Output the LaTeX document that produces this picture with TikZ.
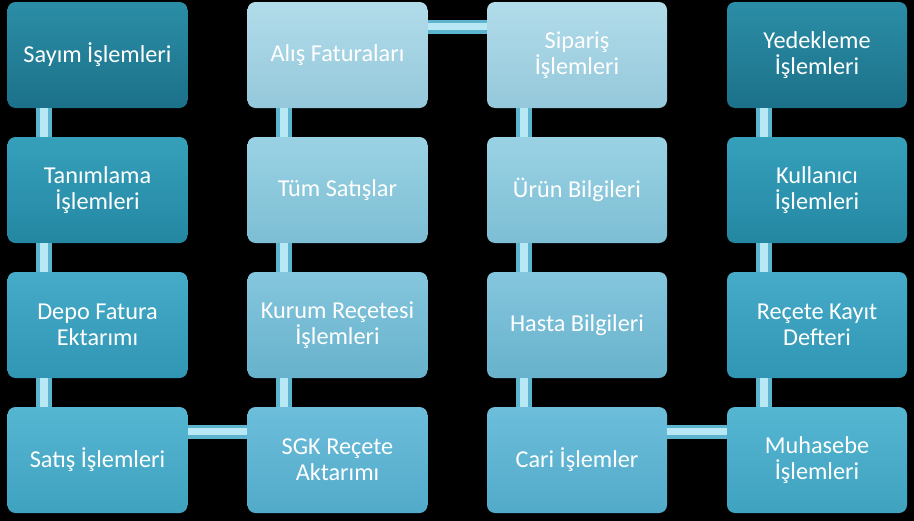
\documentclass[tikz,border=0pt]{standalone}
\usepackage{fontspec}
\setmainfont{Carlito}
\usetikzlibrary{backgrounds}
\definecolor{barout}{HTML}{5DB4CF}
\definecolor{barin}{HTML}{B8E8F4}
\begin{document}
\begin{tikzpicture}[x=0.75pt,y=-0.75pt,
  box/.style={rounded corners=6pt, minimum width=135pt, minimum height=79.5pt,
    text=white, align=center, inner sep=2pt,
    font=\fontsize{18.2}{19.6}\selectfont},
  ca/.style={box, top color={rgb,255:red,43;green,142;blue,166}, bottom color={rgb,255:red,27;green,113;blue,137}},
  cb/.style={box, top color={rgb,255:red,54;green,160;blue,187}, bottom color={rgb,255:red,36;green,135;blue,162}},
  cc/.style={box, top color={rgb,255:red,69;green,171;blue,200}, bottom color={rgb,255:red,49;green,150;blue,179}},
  cd/.style={box, top color={rgb,255:red,85;green,182;blue,210}, bottom color={rgb,255:red,63;green,162;blue,191}},
  la/.style={box, top color={rgb,255:red,178;green,220;blue,234}, bottom color={rgb,255:red,148;green,200;blue,218}},
  lb/.style={box, top color={rgb,255:red,154;green,210;blue,228}, bottom color={rgb,255:red,125;green,190;blue,212}},
  lc/.style={box, top color={rgb,255:red,132;green,198;blue,221}, bottom color={rgb,255:red,104;green,178;blue,204}},
  ld/.style={box, top color={rgb,255:red,108;green,190;blue,219}, bottom color={rgb,255:red,82;green,170;blue,201}},
  vbar/.style={draw=barout, double=barin, line width=3pt, double distance=6pt},
  hbar/.style={draw=barout, double=barin, line width=2.6pt, double distance=5pt}]
\fill[black] (0,0) rectangle (914,521);
\useasboundingbox (0,0) rectangle (914,521);
% column 1
\node[ca] (a1) at (97.5,55) {Sayım İşlemleri};
\node[cb] (a2) at (97.5,190) {Tanımlama\\İşlemleri};
\node[cc] (a3) at (97.5,325) {Depo Fatura\\Ektarımı};
\node[cd] (a4) at (97.5,460) {Satış İşlemleri};
% column 2
\node[la] (b1) at (337.5,55) {Alış Faturaları};
\node[lb] (b2) at (337.5,190) {Tüm Satışlar};
\node[lc] (b3) at (337.5,325) {Kurum Reçetesi\\İşlemleri};
\node[ld] (b4) at (337.5,460) {SGK Reçete\\Aktarımı};
% column 3
\node[la] (c1) at (577,55) {Sipariş\\İşlemleri};
\node[lb] (c2) at (577,190) {Ürün Bilgileri};
\node[lc] (c3) at (577,325) {Hasta Bilgileri};
\node[ld] (c4) at (577,460) {Cari İşlemler};
% column 4
\node[ca] (d1) at (817,55) {Yedekleme\\İşlemleri};
\node[cb] (d2) at (817,190) {Kullanıcı\\İşlemleri};
\node[cc] (d3) at (817,325) {Reçete Kayıt\\Defteri};
\node[cd] (d4) at (817,460) {Muhasebe\\İşlemleri};
% vertical connectors
\foreach \c in {a,b,c,d}{
  \draw[vbar] ([xshift=27.75pt]\c1.south west) -- ([xshift=27.75pt]\c2.north west);
  \draw[vbar] ([xshift=27.75pt]\c2.south west) -- ([xshift=27.75pt]\c3.north west);
  \draw[vbar] ([xshift=27.75pt]\c3.south west) -- ([xshift=27.75pt]\c4.north west);
}
% horizontal connectors
\draw[hbar] ([yshift=-18.75pt]b1.north east) -- ([yshift=-18.75pt]c1.north west);
\draw[hbar] ([yshift=-18.75pt]a4.north east) -- ([yshift=-18.75pt]b4.north west);
\draw[hbar] ([yshift=-18.75pt]c4.north east) -- ([yshift=-18.75pt]d4.north west);
\end{tikzpicture}
\end{document}
